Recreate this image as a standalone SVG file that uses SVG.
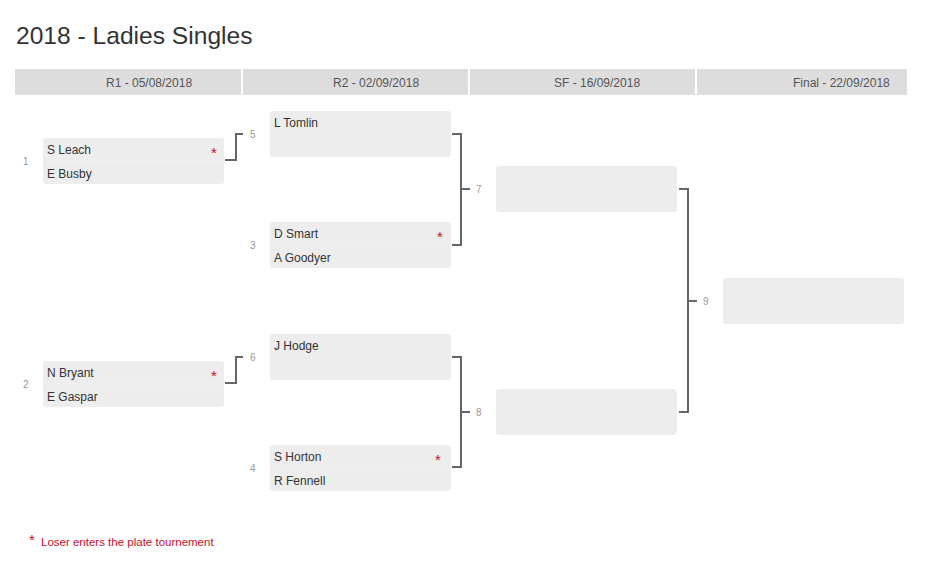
<svg xmlns="http://www.w3.org/2000/svg" width="925" height="567" viewBox="0 0 925 567">
<style>
text{font-family:"Liberation Sans",Arial,sans-serif}
.title{font-size:24.6px;fill:#333}
.hdr{font-size:12px;fill:#555}
.box{fill:#ededed}
.sep{stroke:#f1f1f1;stroke-width:1}
.name{font-size:12px;fill:#333}
.num{font-size:10px;fill:#999}
.star{font-size:15px;fill:#c8102e;text-anchor:middle}
.conn{fill:none;stroke:#666;stroke-width:2}
.note{font-size:11.5px;fill:#c8102e}
</style>
<rect width="925" height="567" fill="#fff"/>
<text class="title" x="16" y="44">2018 - Ladies Singles</text>
<g id="header">
<rect x="15" y="69" width="892" height="26" fill="#dddddd"/>
<rect x="241" y="69" width="2" height="26" fill="#fff"/>
<rect x="468" y="69" width="2" height="26" fill="#fff"/>
<rect x="695" y="69" width="2" height="26" fill="#fff"/>
<text class="hdr" x="106" y="87">R1 - 05/08/2018</text>
<text class="hdr" x="333" y="87">R2 - 02/09/2018</text>
<text class="hdr" x="554" y="87">SF - 16/09/2018</text>
<text class="hdr" x="793" y="87">Final - 22/09/2018</text>
</g>
<g id="connectors">
<path class="conn" d="M225 160 H236 V134 H243"/>
<path class="conn" d="M225 383 H236 V357 H243"/>
<path class="conn" d="M452 134 H461 V245 H452 M461 189 H470"/>
<path class="conn" d="M452 357 H461 V467 H452 M461 412 H470"/>
<path class="conn" d="M679 189 H688 V412 H679 M688 301 H697"/>
</g>
<g id="match1">
<text class="num" x="23" y="165">1</text>
<rect class="box" x="43" y="138" width="181" height="46" rx="3"/>
<line class="sep" x1="43" y1="161" x2="224" y2="161"/>
<text class="name" x="47" y="154">S Leach</text>
<text class="star" x="214" y="158">*</text>
<text class="name" x="47" y="178">E Busby</text>
</g>
<g id="match2">
<text class="num" x="23" y="388">2</text>
<rect class="box" x="43" y="361" width="181" height="46" rx="3"/>
<line class="sep" x1="43" y1="384" x2="224" y2="384"/>
<text class="name" x="47" y="377">N Bryant</text>
<text class="star" x="214" y="381">*</text>
<text class="name" x="47" y="401">E Gaspar</text>
</g>
<g id="match5">
<text class="num" x="250" y="138">5</text>
<rect class="box" x="270" y="111" width="181" height="46" rx="3"/>
<text class="name" x="274" y="127">L Tomlin</text>
</g>
<g id="match3">
<text class="num" x="250" y="249">3</text>
<rect class="box" x="270" y="222" width="181" height="46" rx="3"/>
<line class="sep" x1="270" y1="245" x2="451" y2="245"/>
<text class="name" x="274" y="238">D Smart</text>
<text class="star" x="440" y="242">*</text>
<text class="name" x="274" y="262">A Goodyer</text>
</g>
<g id="match6">
<text class="num" x="250" y="361">6</text>
<rect class="box" x="270" y="334" width="181" height="46" rx="3"/>
<text class="name" x="274" y="350">J Hodge</text>
</g>
<g id="match4">
<text class="num" x="250" y="472">4</text>
<rect class="box" x="270" y="445" width="181" height="46" rx="3"/>
<line class="sep" x1="270" y1="468" x2="451" y2="468"/>
<text class="name" x="274" y="461">S Horton</text>
<text class="star" x="438" y="465">*</text>
<text class="name" x="274" y="485">R Fennell</text>
</g>
<g id="match7">
<text class="num" x="476" y="193">7</text>
<rect class="box" x="496" y="166" width="181" height="46" rx="3"/>
</g>
<g id="match8">
<text class="num" x="476" y="416">8</text>
<rect class="box" x="496" y="389" width="181" height="46" rx="3"/>
</g>
<g id="match9">
<text class="num" x="703" y="305">9</text>
<rect class="box" x="723" y="278" width="181" height="46" rx="3"/>
</g>
<g id="legend">
<text class="star" x="32" y="545">*</text>
<text class="note" x="41" y="546">Loser enters the plate tournement</text>
</g>
</svg>
